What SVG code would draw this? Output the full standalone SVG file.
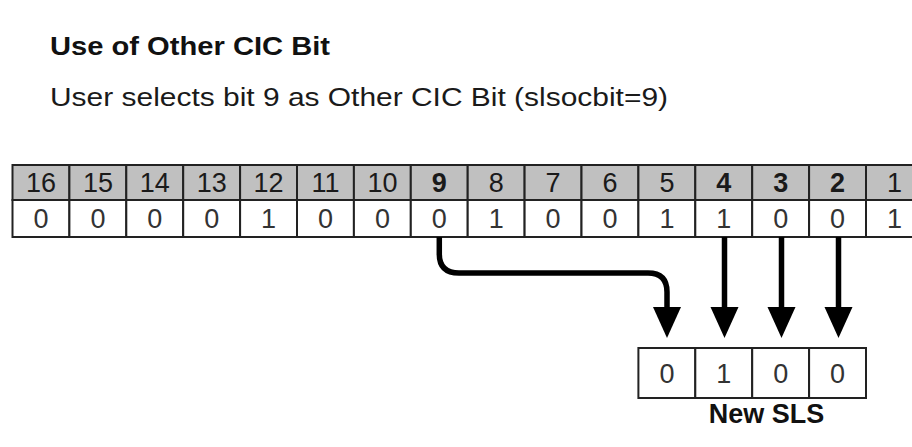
<svg xmlns="http://www.w3.org/2000/svg" width="912" height="447" viewBox="0 0 912 447">
<defs>
<style>
.title{font-family:"Liberation Sans",Arial,sans-serif;font-weight:bold;font-size:25px;fill:#111}
.sub{font-family:"Liberation Sans",Arial,sans-serif;font-size:25px;fill:#1a1a1a}
.hd{fill:#c0c0c0;stroke:#222;stroke-width:2}
.vc{fill:#fff;stroke:#222;stroke-width:2}
.ht{font-family:"Liberation Sans",Arial,sans-serif;font-size:27px;fill:#1a1a1a;text-anchor:middle}
.hb{font-weight:bold}
.vt{font-family:"Liberation Sans",Arial,sans-serif;font-size:27px;fill:#333;text-anchor:middle}
.lbl{font-family:"Liberation Sans",Arial,sans-serif;font-weight:bold;font-size:27px;fill:#111;text-anchor:middle}
.arr{fill:none;stroke:#000;stroke-width:5.5}
</style>
<marker id="ah" markerUnits="userSpaceOnUse" markerWidth="40" markerHeight="32" viewBox="0 -16 34 32" refX="5" refY="0" orient="auto">
<path d="M0,-14 L31,0 L0,14 Z" fill="#000"/>
</marker>
</defs>
<rect width="912" height="447" fill="#fff"/>
<g id="title"><text class="title" x="50" y="55" textLength="280" lengthAdjust="spacingAndGlyphs">Use of Other CIC Bit</text></g>
<g id="subtitle"><text class="sub" x="50" y="106" textLength="618" lengthAdjust="spacingAndGlyphs">User selects bit 9 as Other CIC Bit (slsocbit=9)</text></g>
<g id="register">
<g id="header-row">
<rect class="hd" x="12.5" y="165" width="56.9" height="35"/>
<rect class="hd" x="69.4" y="165" width="56.9" height="35"/>
<rect class="hd" x="126.3" y="165" width="56.9" height="35"/>
<rect class="hd" x="183.2" y="165" width="56.9" height="35"/>
<rect class="hd" x="240.1" y="165" width="56.9" height="35"/>
<rect class="hd" x="297" y="165" width="56.9" height="35"/>
<rect class="hd" x="353.9" y="165" width="56.9" height="35"/>
<rect class="hd" x="410.8" y="165" width="56.9" height="35"/>
<rect class="hd" x="467.7" y="165" width="56.9" height="35"/>
<rect class="hd" x="524.6" y="165" width="56.9" height="35"/>
<rect class="hd" x="581.5" y="165" width="56.9" height="35"/>
<rect class="hd" x="638.4" y="165" width="56.9" height="35"/>
<rect class="hd" x="695.3" y="165" width="56.9" height="35"/>
<rect class="hd" x="752.2" y="165" width="56.9" height="35"/>
<rect class="hd" x="809.1" y="165" width="56.9" height="35"/>
<rect class="hd" x="866" y="165" width="56.9" height="35"/>
<text class="ht" x="41" y="192">16</text>
<text class="ht" x="97.9" y="192">15</text>
<text class="ht" x="154.8" y="192">14</text>
<text class="ht" x="211.7" y="192">13</text>
<text class="ht" x="268.6" y="192">12</text>
<text class="ht" x="325.5" y="192">11</text>
<text class="ht" x="382.4" y="192">10</text>
<text class="ht hb" x="439.3" y="192">9</text>
<text class="ht" x="496.2" y="192">8</text>
<text class="ht" x="553.1" y="192">7</text>
<text class="ht" x="610" y="192">6</text>
<text class="ht" x="666.9" y="192">5</text>
<text class="ht hb" x="723.8" y="192">4</text>
<text class="ht hb" x="780.7" y="192">3</text>
<text class="ht hb" x="837.6" y="192">2</text>
<text class="ht" x="894.5" y="192">1</text>
</g>
<g id="value-row">
<rect class="vc" x="12.5" y="200" width="56.9" height="37"/>
<rect class="vc" x="69.4" y="200" width="56.9" height="37"/>
<rect class="vc" x="126.3" y="200" width="56.9" height="37"/>
<rect class="vc" x="183.2" y="200" width="56.9" height="37"/>
<rect class="vc" x="240.1" y="200" width="56.9" height="37"/>
<rect class="vc" x="297" y="200" width="56.9" height="37"/>
<rect class="vc" x="353.9" y="200" width="56.9" height="37"/>
<rect class="vc" x="410.8" y="200" width="56.9" height="37"/>
<rect class="vc" x="467.7" y="200" width="56.9" height="37"/>
<rect class="vc" x="524.6" y="200" width="56.9" height="37"/>
<rect class="vc" x="581.5" y="200" width="56.9" height="37"/>
<rect class="vc" x="638.4" y="200" width="56.9" height="37"/>
<rect class="vc" x="695.3" y="200" width="56.9" height="37"/>
<rect class="vc" x="752.2" y="200" width="56.9" height="37"/>
<rect class="vc" x="809.1" y="200" width="56.9" height="37"/>
<rect class="vc" x="866" y="200" width="56.9" height="37"/>
<text class="vt" x="41" y="228">0</text>
<text class="vt" x="97.9" y="228">0</text>
<text class="vt" x="154.8" y="228">0</text>
<text class="vt" x="211.7" y="228">0</text>
<text class="vt" x="268.6" y="228">1</text>
<text class="vt" x="325.5" y="228">0</text>
<text class="vt" x="382.4" y="228">0</text>
<text class="vt" x="439.3" y="228">0</text>
<text class="vt" x="496.2" y="228">1</text>
<text class="vt" x="553.1" y="228">0</text>
<text class="vt" x="610" y="228">0</text>
<text class="vt" x="666.9" y="228">1</text>
<text class="vt" x="723.8" y="228">1</text>
<text class="vt" x="780.7" y="228">0</text>
<text class="vt" x="837.6" y="228">0</text>
<text class="vt" x="894.5" y="228">1</text>
</g>
</g>
<g id="connectors">
<path class="arr" d="M439.3,237 V254 Q439.3,273 459,273 H648 Q667,273 667,292 V312" marker-end="url(#ah)"/>
<path class="arr" d="M724.5,237 V312" marker-end="url(#ah)"/>
<path class="arr" d="M781.5,237 V312" marker-end="url(#ah)"/>
<path class="arr" d="M838.5,237 V312" marker-end="url(#ah)"/>
</g>
<g id="new-sls">
<rect class="vc" x="638.4" y="348" width="56.9" height="50"/>
<rect class="vc" x="695.3" y="348" width="56.9" height="50"/>
<rect class="vc" x="752.2" y="348" width="56.9" height="50"/>
<rect class="vc" x="809.1" y="348" width="56.9" height="50"/>
<text class="vt" x="666.9" y="383">0</text>
<text class="vt" x="723.8" y="383">1</text>
<text class="vt" x="780.7" y="383">0</text>
<text class="vt" x="837.6" y="383">0</text>
</g>
<g id="new-sls-label"><text class="lbl" x="766.5" y="423">New SLS</text></g>
</svg>
